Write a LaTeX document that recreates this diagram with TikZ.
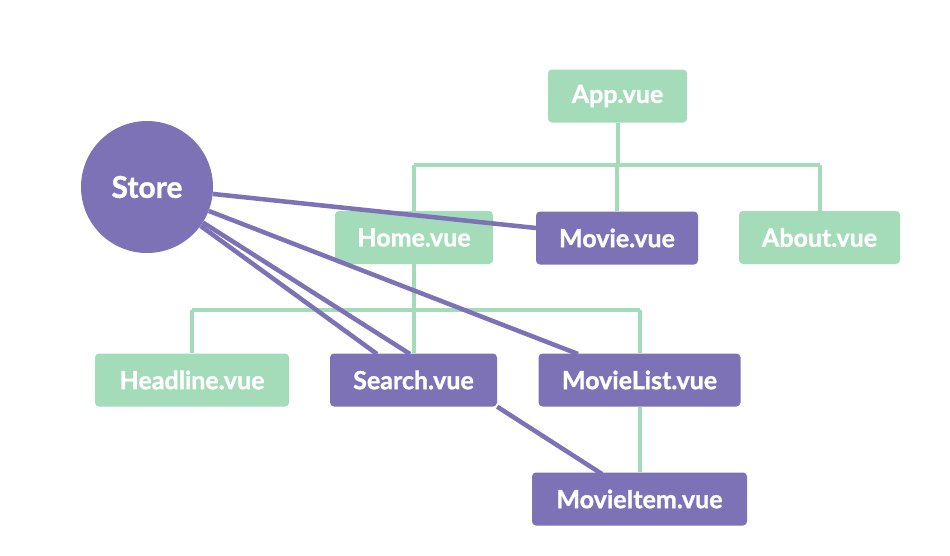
\documentclass[tikz,border=0pt]{standalone}
\usepackage{fontspec}
\setmainfont{Lato}[BoldFeatures={FakeBold=1.2}]
\definecolor{vgreen}{HTML}{A4DBB8}
\definecolor{vpurple}{HTML}{7E72B6}
\pgfdeclarelayer{bg}
\pgfdeclarelayer{glines}
\pgfdeclarelayer{gnodes}
\pgfdeclarelayer{plines}
\pgfsetlayers{bg,glines,gnodes,plines,main}
\begin{document}
\begin{tikzpicture}[x=1pt,y=-1pt,
  box/.style={rectangle, rounded corners=4pt, inner sep=0pt, minimum height=53pt,
    font=\fontsize{25}{29}\selectfont\bfseries, text=white},
  gbox/.style={box, fill=vgreen},
  pbox/.style={box, fill=vpurple},
  gline/.style={draw=vgreen, line width=4pt},
  pline/.style={draw=vpurple, line width=4.5pt}]
\begin{pgfonlayer}{bg}
\fill[white] (0,0) rectangle (950,555);
\end{pgfonlayer}
\useasboundingbox (0,0) rectangle (950,555);

\begin{pgfonlayer}{gnodes}
\node[gbox, minimum width=139pt] (app) at (617.5,96) {App.vue};
\node[gbox, minimum width=158pt] (home) at (414,237.5) {Home.vue};
\node[gbox, minimum width=161pt] (about) at (819.5,237.5) {About.vue};
\node[gbox, minimum width=194pt] (headline) at (192,380) {Headline.vue};
\end{pgfonlayer}

\node[pbox, minimum width=162pt] (movie) at (617,238) {Movie.vue};
\node[pbox, minimum width=167pt] (search) at (413.5,380) {Search.vue};
\node[pbox, minimum width=202pt] (movielist) at (639.5,380) {MovieList.vue};
\node[pbox, minimum width=215pt] (movieitem) at (639.5,499) {MovieItem.vue};
\node[circle, fill=vpurple, minimum size=132pt, inner sep=0pt, text=white,
  font=\fontsize{30}{34}\selectfont\bfseries] (store) at (147,187) {Store};

\coordinate (bus1) at (0,165);
\coordinate (bus2) at (0,310);
\begin{pgfonlayer}{glines}
\draw[gline] (app) -- (app |- bus1);
\draw[gline] (home |- bus1) -- (about |- bus1);
\draw[gline] (home |- bus1) -- (home);
\draw[gline] (movie |- bus1) -- (movie);
\draw[gline] (about |- bus1) -- (about);
\draw[gline] (home) -- (home |- bus2);
\draw[gline] (headline |- bus2) -- (movielist |- bus2);
\draw[gline] (headline |- bus2) -- (headline);
\draw[gline] (search |- bus2) -- (search);
\draw[gline] (movielist |- bus2) -- (movielist);
\draw[gline] (movielist) -- (movieitem);
\end{pgfonlayer}

\coordinate (toMovie) at (536,228);
\coordinate (toList) at (578,354);
\coordinate (toSearchA) at (377,354);
\coordinate (toSearchB) at (410,354);
\coordinate (toItem) at (602,474);
\begin{pgfonlayer}{plines}
\draw[pline] (store) -- (toMovie);
\draw[pline] (store) -- (toList);
\draw[pline] (store) -- (toSearchA);
\draw[pline] (store) -- (toSearchB);
\draw[pline] (search.south east) -- (toItem);
\end{pgfonlayer}
\end{tikzpicture}
\end{document}
